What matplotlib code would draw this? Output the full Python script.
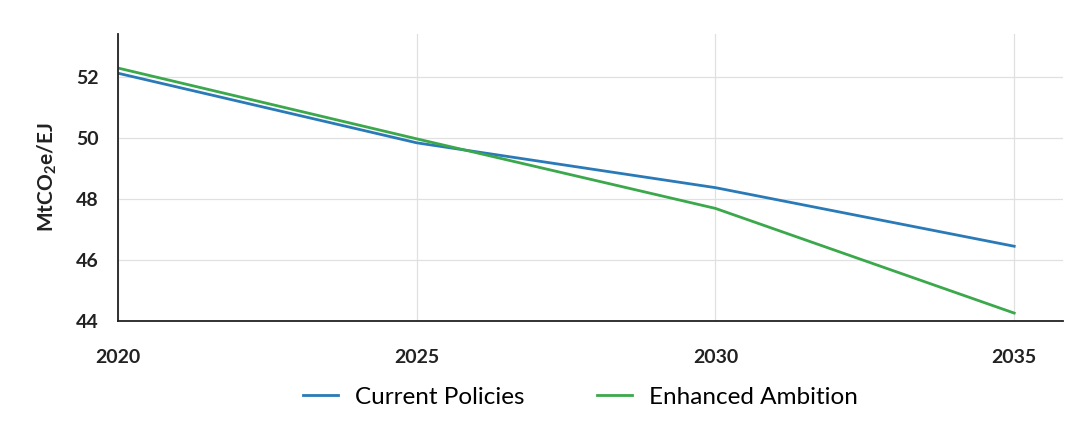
import matplotlib
matplotlib.use("Agg")
import matplotlib.pyplot as plt

# values
years = [2020, 2025, 2030, 2035]
current_policies = [52.12, 49.84, 48.37, 46.45]
enhanced_ambition = [52.29, 49.97, 47.69, 44.26]
yticks = [44, 46, 48, 50, 52]

plt.rcParams['font.family'] = ['Lato', 'DejaVu Sans']
plt.rcParams['mathtext.fontset'] = 'custom'
plt.rcParams['mathtext.rm'] = 'Lato'
plt.rcParams['mathtext.bf'] = 'Lato:bold'

fig = plt.figure(figsize=(10.86, 4.22), dpi=100)
ax = fig.add_axes([0.1087, 0.2393, 0.8703, 0.6797])

ax.plot(years, current_policies, color='#2a7ab8', lw=2, label='Current Policies')
ax.plot(years, enhanced_ambition, color='#3ba84c', lw=2, label='Enhanced Ambition')

ax.set_xlim(2020, 2035.82)
ax.set_ylim(44, 53.4)
ax.set_xticks(years)
ax.set_yticks(yticks)
ax.grid(True, color='#e0e0e0', lw=0.9)
ax.set_axisbelow(True)

for s in ['top', 'right']:
    ax.spines[s].set_visible(False)
for s in ['left', 'bottom']:
    ax.spines[s].set_color('#222222')
    ax.spines[s].set_linewidth(1.3)

ax.tick_params(axis='both', length=0, labelsize=14, colors='#222222')
ax.tick_params(axis='x', pad=20)
ax.tick_params(axis='y', pad=14)
for lbl in ax.get_xticklabels() + ax.get_yticklabels():
    lbl.set_fontweight('bold')

ax.set_ylabel(r'MtCO$_\mathbf{2}$e/EJ', fontsize=15, fontweight='bold', color='#222222', labelpad=12)

fig.legend(loc='center', bbox_to_anchor=(0.5345, 0.059), ncol=2, frameon=False,
           fontsize=17.5, handlelength=1.45, columnspacing=3.0, handletextpad=0.7)

fig.savefig('out.png', dpi=100)
